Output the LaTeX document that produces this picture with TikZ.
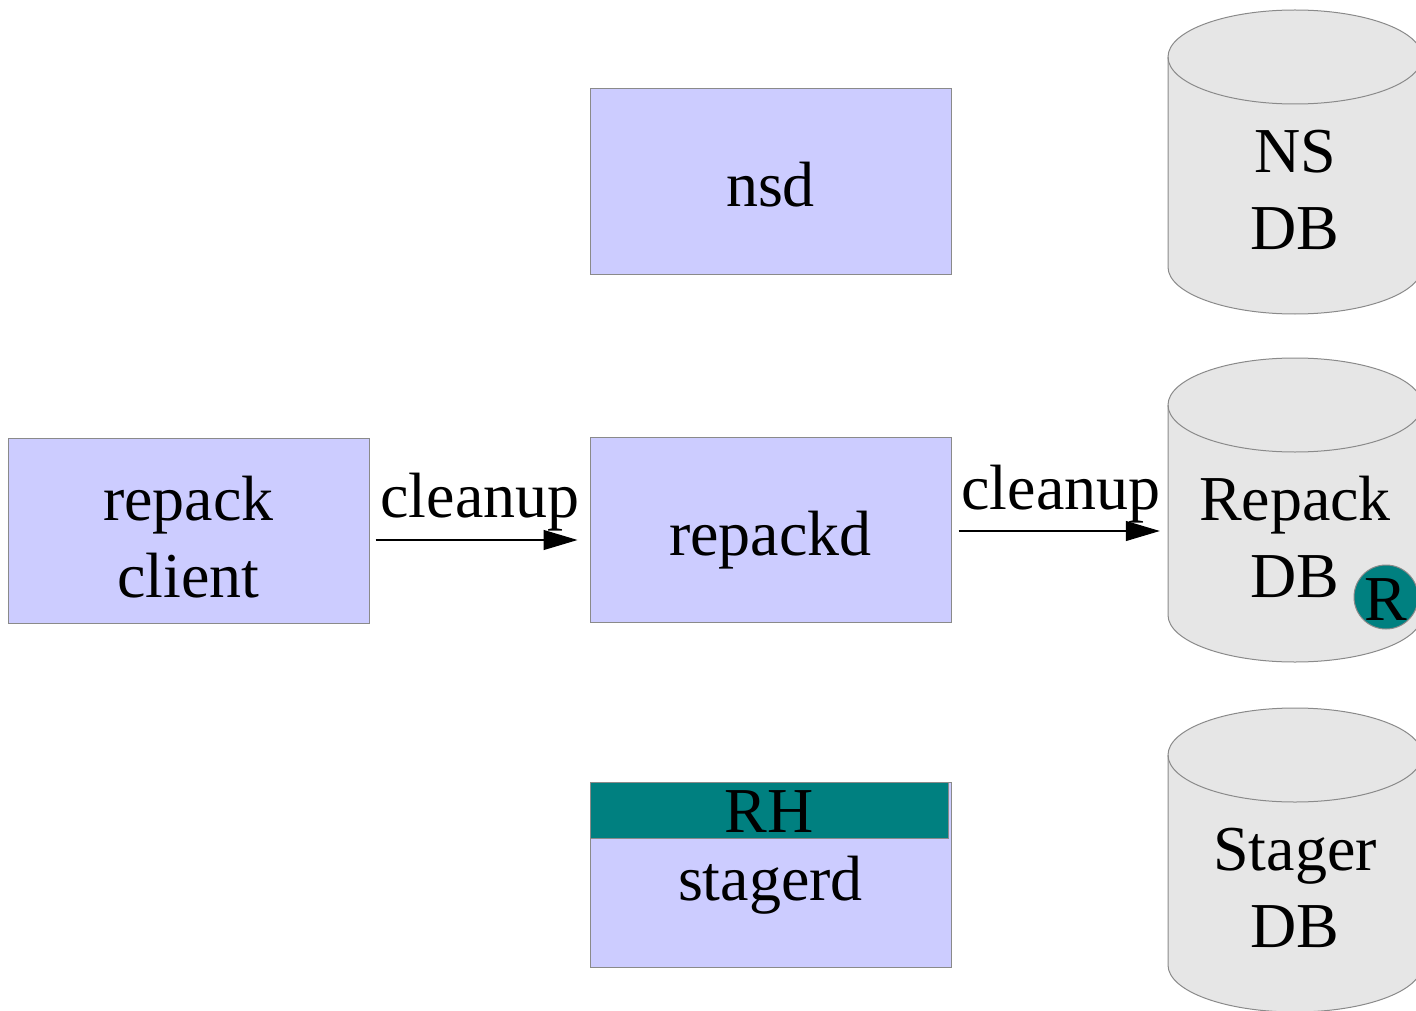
\documentclass[tikz,border=0pt]{standalone}
\usepackage{fontspec}
\setmainfont{Liberation Serif}
\usetikzlibrary{arrows.meta}
\definecolor{boxfill}{HTML}{CCCCFF}
\definecolor{edgegray}{HTML}{8A8A8A}
\definecolor{dbfill}{HTML}{E6E6E6}
\definecolor{rhteal}{HTML}{008080}

\newcommand\twolines[2]{\begin{tabular}[t]{@{}c@{}}#1\\#2\end{tabular}}

\tikzset{
  procbox/.style={rectangle, draw=edgegray, fill=boxfill, line width=1pt,
    minimum width=361pt, minimum height=185pt, inner sep=0pt,
    font=\fontsize{64}{77}\selectfont, text height=51pt, text depth=0pt},
  dbtext/.style={rectangle, minimum width=254pt, minimum height=210pt, inner sep=0pt,
    font=\fontsize{64}{77}\selectfont, text height=21pt, text depth=0pt},
  arrowlabel/.style={font=\fontsize{64}{77}\selectfont, inner sep=0pt, anchor=base},
  flow/.style={line width=1.2pt, -{Triangle[length=34pt,width=20pt]}},
}

% database cylinder: centre x, top ellipse y, bottom ellipse y
\newcommand\dbcylinder[3]{%
  \fill[dbfill] (#1-127,#2) -- (#1-127,#3)
    arc[start angle=180, end angle=360, x radius=127pt, y radius=47pt]
    -- (#1+127,#2)
    arc[start angle=0, end angle=180, x radius=127pt, y radius=47pt] -- cycle;
  \draw[edgegray, line width=1pt] (#1-127,#2) -- (#1-127,#3)
    arc[start angle=180, end angle=360, x radius=127pt, y radius=47pt]
    -- (#1+127,#2);
  \draw[edgegray, line width=1pt] (#1,#2) ellipse[x radius=127pt, y radius=47pt];
}

\begin{document}
\begin{tikzpicture}[x=1pt, y=-1pt]
\useasboundingbox (0,0) rectangle (1416,1011);
\clip (0,0) rectangle (1416,1011);

% process boxes
\node[procbox, text height=0pt, text depth=21pt] (client) at (188.5,530.5) {\twolines{repack}{client}};
\node[procbox] (repackd) at (770.5,529.5) {repackd};
\node[procbox] (nsd) at (770.5,181.5) {nsd};
\node[procbox] (stagerd) at (770.5,874.5) {stagerd};
\node[rectangle, draw=edgegray, fill=rhteal, line width=1pt, anchor=north west,
      minimum width=358pt, minimum height=56pt, inner sep=0pt,
      font=\fontsize{64}{77}\selectfont, text height=44pt, text depth=0pt]
      (rh) at (stagerd.north west) {RH};

% databases
\dbcylinder{1295}{57}{267}
\dbcylinder{1295}{405}{615}
\dbcylinder{1295}{755}{965}
\node[dbtext] (nsdb) at (1295,162) {\twolines{NS}{DB}};
\node[dbtext] (repackdb) at (1295,510) {\twolines{Repack}{DB}};
\node[dbtext] (stagerdb) at (1295,860) {\twolines{Stager}{DB}};
\node[circle, draw=edgegray, fill=rhteal, line width=1pt, minimum size=64pt,
      inner sep=0pt, font=\fontsize{64}{77}\selectfont,
      text height=46pt, text depth=0pt] (rflag) at (1386,597) {R};

% cleanup requests
\draw[flow, shorten <=6pt, shorten >=12pt]
  ([yshift=-9.5pt]client.east) -- ([yshift=-10.5pt]repackd.west);
\draw[flow, shorten <=7pt, shorten >=8pt]
  ([yshift=-1.5pt]repackd.east) -- ([yshift=-21pt]repackdb.west);
\node[arrowlabel] (lab1) at (480,517) {cleanup};
\node[arrowlabel] (lab2) at (1061,509) {cleanup};
\end{tikzpicture}
\end{document}
